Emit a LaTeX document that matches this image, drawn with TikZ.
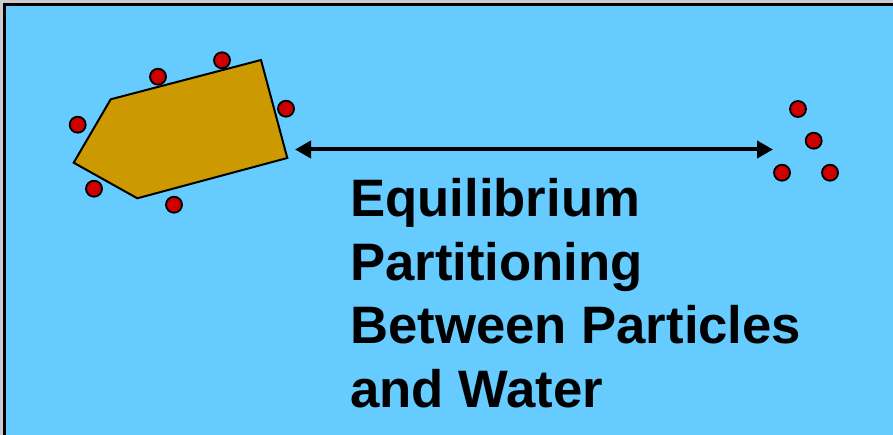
\documentclass[tikz,border=0pt]{standalone}
\usepackage{fontspec}
\setmainfont{Liberation Sans}
\usetikzlibrary{arrows.meta}
\definecolor{water}{HTML}{66CCFF}
\definecolor{particle}{HTML}{CC9900}
\definecolor{solute}{HTML}{CC0000}
\tikzset{
  dot/.style={circle,draw=black,line width=1.8pt,fill=solute,minimum size=16pt,inner sep=0pt},
  label text/.style={anchor=base west,align=left,inner sep=0pt,font=\fontsize{52.7}{63.5}\selectfont\bfseries}
}
\begin{document}
\begin{tikzpicture}[x=1pt,y=-1pt]
\useasboundingbox (0,0) rectangle (893,435);
\fill[gray!40] (0,0) rectangle (893,435);
\fill[water] (4.5,4.5) rectangle (900,440);
\draw[line width=3.5pt] (4.5,440) -- (4.5,4.5) -- (900,4.5);
% particle
\draw[fill=particle,line width=2pt,line join=miter]
  (110.7,99.3) -- (261,60) -- (287.3,158) -- (137.3,198.3) -- (73.7,162.7) -- cycle;
% sorbed solutes
\node[dot] (s1) at (77.7,124.7) {};
\node[dot] (s2) at (158,76.7) {};
\node[dot] (s3) at (222,60.3) {};
\node[dot] (s4) at (286,108.7) {};
\node[dot] (s5) at (94,188.7) {};
\node[dot] (s6) at (174,204.7) {};
% dissolved solutes
\node[dot] (d1) at (798,109) {};
\node[dot] (d2) at (813.7,140.7) {};
\node[dot] (d3) at (782,172.7) {};
\node[dot] (d4) at (830,172.7) {};
% arrow
\coordinate (aL) at (295,149.5);
\coordinate (aR) at (773,149.5);
\draw[line width=4pt,{Triangle[length=16pt,width=17pt]}-{Triangle[length=16pt,width=17pt]}] (aL) -- (aR);
% text
\node[label text] (t) at (350,407) {Equilibrium\\Partitioning\\Between Particles\\and Water};
\end{tikzpicture}
\end{document}
